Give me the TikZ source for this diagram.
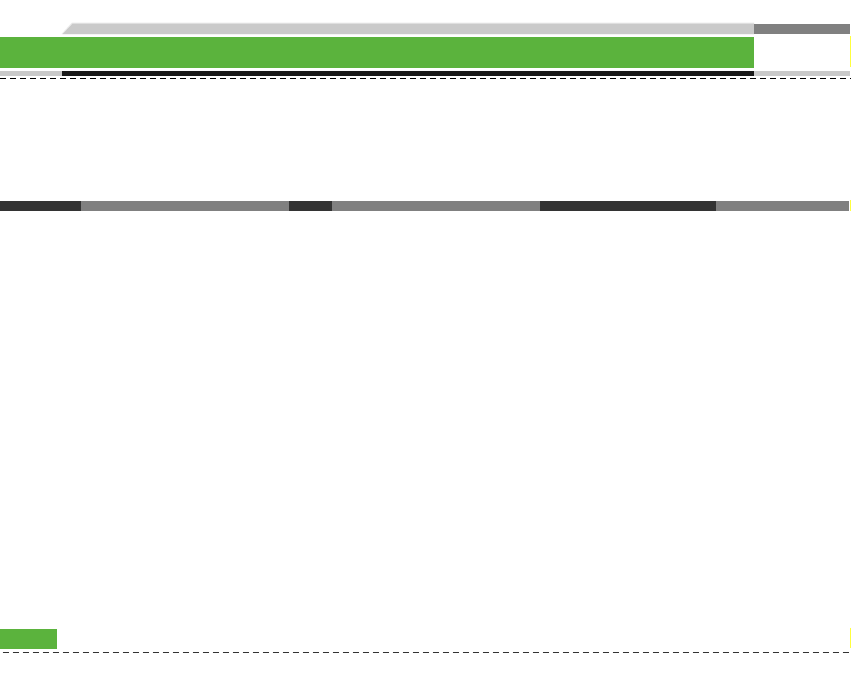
\documentclass[tikz,border=0pt]{standalone}
\definecolor{hdgreen}{RGB}{91,179,61}
\definecolor{ltgray}{RGB}{202,202,202}
\definecolor{midgray}{RGB}{128,128,128}
\definecolor{dkgray}{RGB}{51,51,51}
\definecolor{nearblack}{RGB}{26,26,26}
\definecolor{edgegray}{RGB}{235,235,235}
\definecolor{markyellow}{RGB}{255,255,60}
\begin{document}
\begin{tikzpicture}[x=1pt,y=-1pt,
  dashrule/.style={line width=1.2pt,dash pattern=on 6pt off 4pt},
  edgemark/.style={markyellow,line width=1.2pt}]
\useasboundingbox[fill=white] (0,0) rectangle (851,681);
% top slanted gray band
\fill[edgegray] (61.5,34) -- (72,22.5) -- (754,22.5) -- (754,34) -- cycle;
\fill[ltgray] (62.7,34) -- (72.5,23.7) -- (754,23.7) -- (754,34) -- cycle;
\fill[midgray] (754,24) rectangle (850,34);
% green header
\fill[hdgreen] (0,37) rectangle (754,67.7);
% thin bar below
\fill[ltgray] (0,70.7) rectangle (62,75.7);
\fill[nearblack] (62,70.7) rectangle (754,75.7);
\fill[ltgray] (754,70.7) rectangle (850,75.7);
% dashed rule
\draw[dashrule,black] (0,78.5) -- (851,78.5);
% section bar
\fill[dkgray] (0,201) rectangle (81,210.7);
\fill[midgray] (81,201) rectangle (289,210.7);
\fill[dkgray] (289,201) rectangle (332,210.7);
\fill[midgray] (332,201) rectangle (540,210.7);
\fill[dkgray] (540,201) rectangle (716,210.7);
\fill[midgray] (716,201) rectangle (849.3,210.7);
% bottom green tab
\fill[hdgreen] (0,629) rectangle (57,649);
% bottom dashed rule
\draw[dashrule,dkgray] (2.7,652.3) -- (851,652.3);
% yellow edge marks
\draw[edgemark] (850.3,36) -- (850.3,66.7);
\draw[edgemark] (850.3,200) -- (850.3,210.7);
\draw[edgemark] (850.3,627.7) -- (850.3,647.7);
\end{tikzpicture}
\end{document}
